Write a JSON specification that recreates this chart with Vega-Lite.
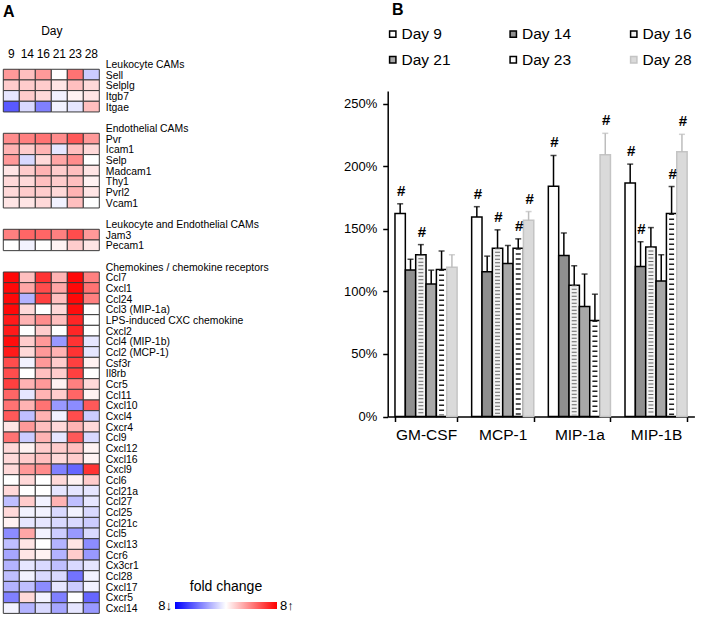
{
  "$schema": "https://vega.github.io/schema/vega-lite/v6.json",
  "background": "white",
  "width": 701,
  "height": 618,
  "autosize": {"type": "none"},
  "padding": 0,
  "config": {
    "view": {"stroke": null},
    "font": "Liberation Sans",
    "axis": {"labelFont": "Liberation Sans", "titleFont": "Liberation Sans", "labelColor": "#000", "titleColor": "#000", "grid": false},
    "legend": {"labelFont": "Liberation Sans", "titleFont": "Liberation Sans", "labelColor": "#000", "titleColor": "#000"}
  },
  "title": {"text": "A", "anchor": "start", "frame": "group", "fontSize": 16, "fontWeight": "bold", "offset": -20, "dx": 3, "color": "#000"},
  "resolve": {
    "scale": {"x": "independent", "y": "independent", "color": "independent"},
    "axis": {"x": "independent", "y": "independent"},
    "legend": {"color": "independent"}
  },
  "layer": [
    {
      "data": {
        "values": [
          {"g": "Sell", "d9": 0.4, "d14": 0.25, "d16": 0.4, "d21": 0.0, "d23": 0.55, "d28": -0.2},
          {"g": "Selplg", "d9": 0.2, "d14": 0.2, "d16": 0.2, "d21": 0.1, "d23": 0.25, "d28": 0.15},
          {"g": "Itgb7", "d9": -0.1, "d14": 0.2, "d16": 0.15, "d21": -0.05, "d23": 0.05, "d28": 0.1},
          {"g": "Itgae", "d9": -0.65, "d14": -0.15, "d16": -0.5, "d21": -0.05, "d23": -0.1, "d28": 0.25},
          {"g": "Pvr", "d9": 0.45, "d14": 0.5, "d16": 0.55, "d21": 0.45, "d23": 0.65, "d28": 0.4},
          {"g": "Icam1", "d9": 0.3, "d14": 0.2, "d16": 0.3, "d21": -0.1, "d23": 0.25, "d28": 0.15},
          {"g": "Selp", "d9": 0.4, "d14": -0.15, "d16": 0.15, "d21": 0.35, "d23": 0.45, "d28": 0.0},
          {"g": "Madcam1", "d9": 0.1, "d14": 0.2, "d16": 0.3, "d21": 0.2, "d23": 0.25, "d28": 0.1},
          {"g": "Thy1", "d9": 0.15, "d14": 0.15, "d16": 0.25, "d21": 0.2, "d23": 0.25, "d28": 0.05},
          {"g": "Pvrl2", "d9": 0.15, "d14": 0.2, "d16": 0.2, "d21": 0.15, "d23": 0.3, "d28": 0.1},
          {"g": "Vcam1", "d9": 0.1, "d14": 0.1, "d16": 0.15, "d21": -0.05, "d23": 0.25, "d28": 0.0},
          {"g": "Jam3", "d9": 0.5, "d14": 0.6, "d16": 0.6, "d21": 0.5, "d23": 0.7, "d28": 0.4},
          {"g": "Pecam1", "d9": 0.0, "d14": -0.05, "d16": 0.0, "d21": 0.05, "d23": 0.2, "d28": 0.1},
          {"g": "Ccl7", "d9": 0.97, "d14": 0.25, "d16": 0.8, "d21": 0.3, "d23": 0.97, "d28": 0.5},
          {"g": "Cxcl1", "d9": 0.97, "d14": 0.35, "d16": 0.7, "d21": 0.35, "d23": 0.97, "d28": 0.55},
          {"g": "Ccl24", "d9": 0.97, "d14": -0.3, "d16": 0.75, "d21": 0.25, "d23": 0.97, "d28": 0.5},
          {"g": "Ccl3 (MIP-1a)", "d9": 0.97, "d14": 0.15, "d16": 0.0, "d21": 0.15, "d23": 0.95, "d28": 0.0},
          {"g": "LPS-induced CXC chemokine", "d9": 0.9, "d14": 0.3, "d16": 0.45, "d21": 0.25, "d23": 0.85, "d28": 0.0},
          {"g": "Cxcl2", "d9": 0.9, "d14": 0.0, "d16": 0.2, "d21": 0.0, "d23": 0.85, "d28": 0.0},
          {"g": "Ccl4 (MIP-1b)", "d9": 0.95, "d14": 0.2, "d16": 0.4, "d21": -0.4, "d23": 0.8, "d28": -0.1},
          {"g": "Ccl2 (MCP-1)", "d9": 0.9, "d14": 0.15, "d16": 0.4, "d21": 0.3, "d23": 0.8, "d28": -0.1},
          {"g": "Csf3r", "d9": 0.7, "d14": -0.05, "d16": 0.4, "d21": 0.2, "d23": 0.75, "d28": 0.05},
          {"g": "Il8rb", "d9": 0.7, "d14": 0.0, "d16": 0.25, "d21": 0.2, "d23": 0.75, "d28": 0.0},
          {"g": "Ccr5", "d9": 0.75, "d14": 0.3, "d16": 0.4, "d21": 0.05, "d23": 0.5, "d28": 0.15},
          {"g": "Ccl11", "d9": 0.6, "d14": -0.1, "d16": 0.3, "d21": 0.2, "d23": 0.6, "d28": 0.05},
          {"g": "Cxcl10", "d9": 0.55, "d14": 0.3, "d16": 0.55, "d21": -0.4, "d23": -0.45, "d28": 0.65},
          {"g": "Cxcl4", "d9": 0.65, "d14": -0.25, "d16": 0.3, "d21": -0.05, "d23": 0.7, "d28": -0.2},
          {"g": "Cxcr4", "d9": 0.1, "d14": 0.4, "d16": 0.25, "d21": 0.15, "d23": 0.3, "d28": 0.15},
          {"g": "Ccl9", "d9": 0.55, "d14": -0.2, "d16": 0.3, "d21": -0.1, "d23": 0.65, "d28": -0.15},
          {"g": "Cxcl12", "d9": 0.15, "d14": 0.05, "d16": 0.2, "d21": 0.2, "d23": 0.25, "d28": 0.05},
          {"g": "Cxcl16", "d9": 0.15, "d14": 0.2, "d16": 0.25, "d21": 0.15, "d23": 0.2, "d28": 0.05},
          {"g": "Cxcl9", "d9": 0.15, "d14": 0.4, "d16": 0.45, "d21": -0.5, "d23": -0.6, "d28": 0.8},
          {"g": "Ccl6", "d9": 0.0, "d14": 0.15, "d16": 0.0, "d21": 0.15, "d23": 0.05, "d28": 0.2},
          {"g": "Ccl21a", "d9": 0.15, "d14": 0.0, "d16": 0.0, "d21": -0.1, "d23": -0.1, "d28": -0.1},
          {"g": "Ccl27", "d9": -0.25, "d14": 0.2, "d16": -0.05, "d21": 0.3, "d23": -0.25, "d28": -0.1},
          {"g": "Ccl25", "d9": 0.15, "d14": -0.05, "d16": -0.05, "d21": -0.15, "d23": -0.05, "d28": -0.15},
          {"g": "Ccl21c", "d9": 0.05, "d14": -0.1, "d16": -0.1, "d21": -0.15, "d23": -0.15, "d28": -0.2},
          {"g": "Ccl5", "d9": -0.45, "d14": 0.35, "d16": -0.05, "d21": -0.2, "d23": -0.4, "d28": -0.15},
          {"g": "Cxcl13", "d9": -0.25, "d14": 0.1, "d16": 0.0, "d21": -0.3, "d23": 0.1, "d28": -0.45},
          {"g": "Ccr6", "d9": -0.35, "d14": 0.1, "d16": 0.05, "d21": -0.3, "d23": 0.2, "d28": -0.4},
          {"g": "Cx3cr1", "d9": -0.3, "d14": -0.1, "d16": -0.15, "d21": -0.25, "d23": -0.15, "d28": -0.1},
          {"g": "Ccl28", "d9": -0.25, "d14": -0.05, "d16": -0.15, "d21": -0.15, "d23": -0.55, "d28": -0.05},
          {"g": "Cxcl17", "d9": -0.3, "d14": -0.25, "d16": -0.45, "d21": -0.1, "d23": -0.2, "d28": -0.05},
          {"g": "Cxcr5", "d9": -0.5, "d14": 0.15, "d16": -0.05, "d21": -0.5, "d23": 0.0, "d28": -0.6},
          {"g": "Cxcl14", "d9": -0.05, "d14": -0.3, "d16": -0.15, "d21": -0.35, "d23": -0.1, "d28": -0.4}
        ]
      },
      "transform": [{"fold": ["d9", "d14", "d16", "d21", "d23", "d28"], "as": ["day", "fc"]}],
      "mark": {"type": "rect", "stroke": "#3a3a3a", "strokeWidth": 1},
      "encoding": {
        "x": {
          "field": "day", "type": "ordinal",
          "scale": {"domain": ["d9", "d14", "d16", "d21", "d23", "d28"], "range": [3.3, 99.3], "paddingInner": 0, "paddingOuter": 0},
          "axis": {"orient": "top", "offset": -58.6, "title": "Day", "labelExpr": "replace(datum.value, 'd', '')", "labelAngle": 0, "ticks": false, "domain": false, "labelPadding": -2, "titlePadding": 10, "labelFontSize": 12, "titleFontSize": 12, "titleFontWeight": "normal"}
        },
        "y": {
          "field": "g", "type": "ordinal",
          "scale": {
            "domain": ["Leukocyte CAMs", "Sell", "Selplg", "Itgb7", "Itgae", "_b1", "Endothelial CAMs", "Pvr", "Icam1", "Selp", "Madcam1", "Thy1", "Pvrl2", "Vcam1", "_b2", "Leukocyte and Endothelial CAMs", "Jam3", "Pecam1", "_b3", "Chemokines / chemokine receptors", "Ccl7", "Cxcl1", "Ccl24", "Ccl3 (MIP-1a)", "LPS-induced CXC chemokine", "Cxcl2", "Ccl4 (MIP-1b)", "Ccl2 (MCP-1)", "Csf3r", "Il8rb", "Ccr5", "Ccl11", "Cxcl10", "Cxcl4", "Cxcr4", "Ccl9", "Cxcl12", "Cxcl16", "Cxcl9", "Ccl6", "Ccl21a", "Ccl27", "Ccl25", "Ccl21c", "Ccl5", "Cxcl13", "Ccr6", "Cx3cr1", "Ccl28", "Cxcl17", "Cxcr5", "Cxcl14"],
            "range": [58.6, 613.4],
            "paddingInner": 0, "paddingOuter": 0
          },
          "axis": {"orient": "right", "offset": -601.7, "title": null, "ticks": false, "domain": false, "labelPadding": 6, "labelFontSize": 10.4, "labelLimit": 400, "labelOffset": 1, "labelOverlap": false, "labelExpr": "indexof(datum.value, '_b') === 0 ? '' : datum.value"}
        },
        "color": {
          "field": "fc", "type": "quantitative",
          "scale": {"domain": [-1, 0, 1], "range": ["#0000ff", "#ffffff", "#ff0000"], "interpolate": "rgb"},
          "legend": {
            "orient": "none", "legendX": 175, "legendY": 580, "direction": "horizontal",
            "title": "fold change", "titleFontSize": 14, "titleFontWeight": "normal", "titleAnchor": "middle", "titlePadding": 8,
            "gradientLength": 102, "gradientThickness": 7, "gradientStrokeWidth": 0,
            "values": [-1, 1],
            "labelExpr": "datum.value < 0 ? '8↓' : '8↑'",
            "labelOffset": -3.5, "labelFontSize": 13, "labelOverlap": false, "padding": 0,
            "encoding": {
              "labels": {
                "align": {"value": {"expr": "datum.value < 0 ? 'right' : 'left'"}},
                "baseline": {"value": "middle"},
                "dx": {"value": {"expr": "datum.value < 0 ? -3 : 3"}}
              }
            }
          }
        }
      }
    },
    {
      "data": {
        "values": [
          {"c": "GM-CSF", "day": "Day 9", "v": 162.2, "e": 169.9, "sig": true},
          {"c": "GM-CSF", "day": "Day 14", "v": 117.1, "e": 125.6, "sig": false},
          {"c": "GM-CSF", "day": "Day 16", "v": 129.2, "e": 137.3, "sig": true},
          {"c": "GM-CSF", "day": "Day 21", "v": 105.8, "e": 116.9, "sig": false},
          {"c": "GM-CSF", "day": "Day 23", "v": 117.4, "e": 132.2, "sig": false},
          {"c": "GM-CSF", "day": "Day 28", "v": 119.2, "e": 129.2, "sig": false},
          {"c": "MCP-1", "day": "Day 9", "v": 159.4, "e": 167.6, "sig": true},
          {"c": "MCP-1", "day": "Day 14", "v": 115.6, "e": 128.1, "sig": false},
          {"c": "MCP-1", "day": "Day 16", "v": 134.3, "e": 149.1, "sig": true},
          {"c": "MCP-1", "day": "Day 21", "v": 122.3, "e": 136.6, "sig": false},
          {"c": "MCP-1", "day": "Day 23", "v": 134.3, "e": 141.9, "sig": true},
          {"c": "MCP-1", "day": "Day 28", "v": 156.8, "e": 163.7, "sig": true},
          {"c": "MIP-1a", "day": "Day 9", "v": 183.9, "e": 208.5, "sig": true},
          {"c": "MIP-1a", "day": "Day 14", "v": 128.6, "e": 146.6, "sig": false},
          {"c": "MIP-1a", "day": "Day 16", "v": 104.8, "e": 120.4, "sig": false},
          {"c": "MIP-1a", "day": "Day 21", "v": 87.9, "e": 113.8, "sig": false},
          {"c": "MIP-1a", "day": "Day 23", "v": 76.7, "e": 97.7, "sig": false},
          {"c": "MIP-1a", "day": "Day 28", "v": 209.1, "e": 226.2, "sig": true},
          {"c": "MIP-1B", "day": "Day 9", "v": 186.5, "e": 201.6, "sig": true},
          {"c": "MIP-1B", "day": "Day 14", "v": 119.9, "e": 139.6, "sig": true},
          {"c": "MIP-1B", "day": "Day 16", "v": 135.3, "e": 150.9, "sig": false},
          {"c": "MIP-1B", "day": "Day 21", "v": 108.2, "e": 129.2, "sig": false},
          {"c": "MIP-1B", "day": "Day 23", "v": 162.2, "e": 183.7, "sig": true},
          {"c": "MIP-1B", "day": "Day 28", "v": 211.4, "e": 225.4, "sig": true}
        ]
      },
      "encoding": {
        "x": {
          "field": "c", "type": "nominal",
          "scale": {"domain": ["GM-CSF", "MCP-1", "MIP-1a", "MIP-1B"], "range": [387.7, 694.4], "paddingInner": 0.19, "paddingOuter": 0.095},
          "axis": {"orient": "bottom", "offset": -201.5, "title": null, "labelAngle": 0, "labelFontSize": 15.5, "tickBand": "extent", "tickSize": 5, "tickColor": "#000", "domainColor": "#000", "tickWidth": 1.5, "domainWidth": 1.5, "labelPadding": 6}
        },
        "xOffset": {
          "field": "day", "type": "nominal",
          "scale": {"domain": ["Day 9", "Day 14", "Day 16", "Day 21", "Day 23", "Day 28"], "paddingInner": 0, "paddingOuter": 0}
        }
      },
      "layer": [
        {
          "mark": {"type": "bar", "strokeWidth": 1.5},
          "encoding": {
            "y": {
              "field": "v", "type": "quantitative",
              "scale": {"domain": [0, 250], "range": [416.5, 91]},
              "axis": {"orient": "left", "offset": -387.7, "title": null, "values": [0, 50, 100, 150, 200, 250], "labelExpr": "datum.value + '%'", "grid": false, "tickSize": 5, "tickColor": "#000", "domainColor": "#000", "tickWidth": 1.5, "domainWidth": 1.5, "labelFontSize": 13, "labelPadding": 6}
            },
            "fill": {
              "field": "day", "type": "nominal",
              "scale": {"domain": ["Day 9", "Day 21", "Day 14", "Day 23", "Day 16", "Day 28"], "range": ["#ffffff", "#a8a8a8", "#8f8f8f", "#ffffff", "#f2f2f2", "#dadada"]},
              "legend": {
                "title": "B", "titleFontSize": 16, "titleFontWeight": "bold", "titleAnchor": "start", "titlePadding": 8,
                "orient": "none", "legendX": 385, "legendY": 2, "columns": 3, "columnPadding": 54.5, "rowPadding": 9,
                "symbolType": "square", "symbolSize": 40, "symbolStrokeWidth": 1.5, "labelFontSize": 15.5, "labelOffset": 1, "gridAlign": "all", "padding": 0,
                "encoding": {"title": {"dx": {"value": 7}}}
              }
            },
            "stroke": {
              "field": "day", "type": "nominal",
              "scale": {"domain": ["Day 9", "Day 21", "Day 14", "Day 23", "Day 16", "Day 28"], "range": ["#000000", "#000000", "#000000", "#000000", "#000000", "#c4c4c4"]},
              "legend": {
                "title": "B", "titleFontSize": 16, "titleFontWeight": "bold", "titleAnchor": "start", "titlePadding": 8,
                "orient": "none", "legendX": 385, "legendY": 2, "columns": 3, "columnPadding": 54.5, "rowPadding": 9,
                "symbolType": "square", "symbolSize": 40, "symbolStrokeWidth": 1.5, "labelFontSize": 15.5, "labelOffset": 1, "gridAlign": "all", "padding": 0,
                "encoding": {"title": {"dx": {"value": 7}}}
              }
            }
          }
        },
        {
          "transform": [{"filter": "datum.day === 'Day 16'"}],
          "mark": {"type": "rule", "strokeWidth": 5, "strokeDash": [1, 2.5], "color": "#666666"},
          "encoding": {"y": {"field": "v", "type": "quantitative"}, "y2": {"datum": 1}}
        },
        {
          "transform": [{"filter": "datum.day === 'Day 23'"}],
          "mark": {"type": "rule", "strokeWidth": 5, "strokeDash": [1.5, 3.5], "color": "#222222"},
          "encoding": {"y": {"field": "v", "type": "quantitative"}, "y2": {"datum": 1}}
        },
        {
          "mark": {"type": "rule", "strokeWidth": 1.5},
          "encoding": {
            "y": {"field": "v", "type": "quantitative"},
            "y2": {"field": "e"},
            "color": {"field": "day", "type": "nominal", "scale": {"domain": ["Day 9", "Day 14", "Day 16", "Day 21", "Day 23", "Day 28"], "range": ["#000000", "#000000", "#000000", "#000000", "#000000", "#bdbdbd"]}, "legend": null}
          }
        },
        {
          "mark": {"type": "tick", "orient": "horizontal", "size": 6, "thickness": 1.5},
          "encoding": {
            "y": {"field": "e", "type": "quantitative"},
            "color": {"field": "day", "type": "nominal", "legend": null}
          }
        },
        {
          "transform": [{"filter": "datum.sig"}],
          "mark": {"type": "text", "fontSize": 15, "fontWeight": "bold", "baseline": "middle", "dy": -13, "dx": 1, "color": "#000"},
          "encoding": {
            "y": {"field": "e", "type": "quantitative"},
            "text": {"value": "#"}
          }
        }
      ]
    }
  ]
}
